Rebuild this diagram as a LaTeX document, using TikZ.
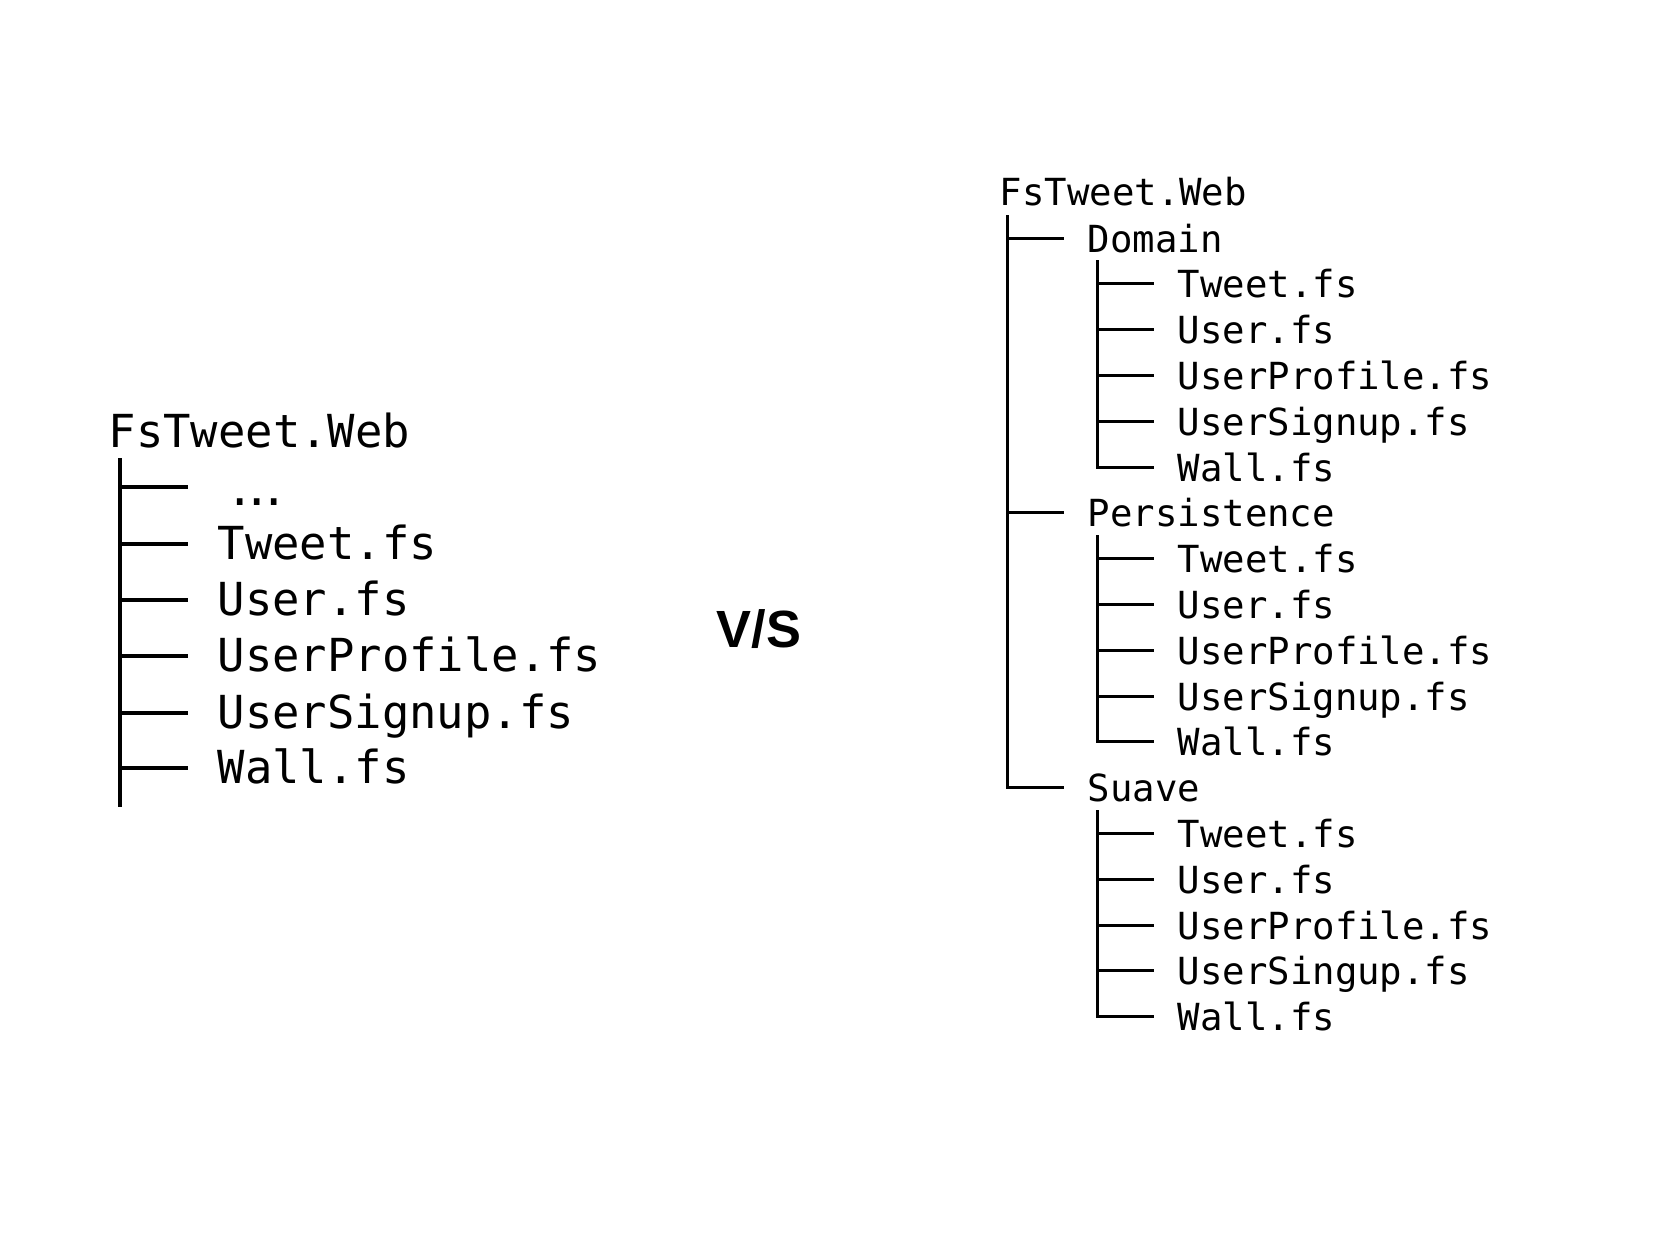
\documentclass[tikz,border=0pt]{standalone}
\usepackage{fontspec}
\setmainfont{Liberation Sans}
\newfontfamily\treefont{DejaVu Sans Mono}
\usetikzlibrary{positioning}

\begin{document}
\begin{tikzpicture}[
    y=-1cm,
    bigtree/.style={font=\treefont\fontsize{12.95pt}{15pt}\selectfont},
    smalltree/.style={font=\treefont\fontsize{10.62pt}{13pt}\selectfont},
    leftfile/.style={bigtree, anchor=west, inner xsep=0.29cm, inner ysep=0pt, text height=0.30cm, text depth=0pt},
    rightfile/.style={smalltree, anchor=west, inner xsep=0.23cm, inner ysep=0pt, text height=0.28cm, text depth=0pt},
    bigline/.style={line width=1pt},
    smallline/.style={line width=0.85pt},
]
    \useasboundingbox (0,0) rectangle (16.78,12.34);

    % Flat project
    \node[bigtree, anchor=base west, inner sep=0pt] (lroot) at (1.08,4.47) {FsTweet.Web};
    \coordinate (ltop) at (1.20,4.58);
    \coordinate (lend) at (1.20,8.07);
    \node[leftfile, inner xsep=0.38cm, text height=0.36cm] (ldots) at (1.88,4.87) {.\kern-0.23em.\kern-0.23em.};
    \node[leftfile] (ltweet) at (1.88,5.44) {Tweet.fs};
    \node[leftfile] (luser) at (1.88,6.00) {User.fs};
    \node[leftfile] (lprofile) at (1.88,6.56) {UserProfile.fs};
    \node[leftfile] (lsignup) at (1.88,7.13) {UserSignup.fs};
    \node[leftfile] (lwall) at (1.88,7.68) {Wall.fs};

    \draw[bigline] (ltop) -- (lend);
    \foreach \n in {ldots,ltweet,luser,lprofile,lsignup,lwall}
        \draw[bigline] (ltop |- \n.west) -- (\n.west);

    % Versus
    \node[anchor=base, font=\bfseries\fontsize{14.9pt}{17pt}\selectfont] (vs) at (7.59,6.47) {V/S};

    % Layered project
    \node[smalltree, anchor=base west, inner sep=0pt] (rroot) at (9.99,2.05) {FsTweet.Web};
    \coordinate (rtop) at (10.07,2.15);

    \node[rightfile] (dom) at (10.64,2.38) {Domain};
    \coordinate (domtop) at (10.97,2.60);
    \node[rightfile] (dom1) at (11.54,2.838) {Tweet.fs};
    \node[rightfile] (dom2) at (11.54,3.296) {User.fs};
    \node[rightfile] (dom3) at (11.54,3.754) {UserProfile.fs};
    \node[rightfile] (dom4) at (11.54,4.212) {UserSignup.fs};
    \node[rightfile] (dom5) at (11.54,4.670) {Wall.fs};

    \node[rightfile] (per) at (10.64,5.128) {Persistence};
    \coordinate (pertop) at (10.97,5.35);
    \node[rightfile] (per1) at (11.54,5.586) {Tweet.fs};
    \node[rightfile] (per2) at (11.54,6.044) {User.fs};
    \node[rightfile] (per3) at (11.54,6.502) {UserProfile.fs};
    \node[rightfile] (per4) at (11.54,6.960) {UserSignup.fs};
    \node[rightfile] (per5) at (11.54,7.418) {Wall.fs};

    \node[rightfile] (suave) at (10.64,7.876) {Suave};
    \coordinate (suavetop) at (10.97,8.10);
    \node[rightfile] (suave1) at (11.54,8.334) {Tweet.fs};
    \node[rightfile] (suave2) at (11.54,8.792) {User.fs};
    \node[rightfile] (suave3) at (11.54,9.250) {UserProfile.fs};
    \node[rightfile] (suave4) at (11.54,9.708) {UserSingup.fs};
    \node[rightfile] (suave5) at (11.54,10.166) {Wall.fs};

    \draw[smallline] (rtop) |- (suave.west);
    \foreach \n in {dom,per}
        \draw[smallline] (rtop |- \n.west) -- (\n.west);

    \draw[smallline] (domtop) |- (dom5.west);
    \draw[smallline] (pertop) |- (per5.west);
    \draw[smallline] (suavetop) |- (suave5.west);
    \foreach \n in {1,2,3,4} {
        \draw[smallline] (domtop |- dom\n.west) -- (dom\n.west);
        \draw[smallline] (pertop |- per\n.west) -- (per\n.west);
        \draw[smallline] (suavetop |- suave\n.west) -- (suave\n.west);
    }
\end{tikzpicture}
\end{document}
